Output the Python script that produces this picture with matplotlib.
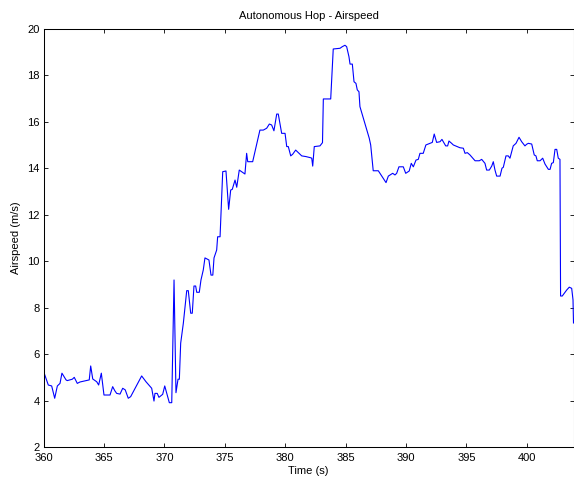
import matplotlib
matplotlib.use('Agg')
import matplotlib.pyplot as plt

# airspeed log from the autonomous hop
time_s = [
    360.0, 360.38, 360.66, 360.91, 361.13, 361.35, 361.51, 361.85, 361.95, 362.37,
    362.53, 362.78, 363.0, 363.77, 363.89, 364.06, 364.39, 364.55, 364.77, 364.99,
    365.49, 365.71, 365.88, 366.04, 366.32, 366.54, 366.75, 367.0, 367.2, 368.11,
    368.47, 368.94, 369.13, 369.21, 369.4, 369.54, 369.85, 370.02, 370.4, 370.6,
    370.79, 370.95, 371.12, 371.23, 371.34, 371.56, 371.84, 371.97, 372.17, 372.3,
    372.44, 372.58, 372.67, 372.88, 373.02, 373.21, 373.35, 373.68, 373.85, 374.0,
    374.1, 374.32, 374.4, 374.6, 374.82, 375.09, 375.31, 375.48, 375.61, 375.84,
    375.98, 376.19, 376.66, 376.8, 376.89, 377.3, 377.9, 378.18, 378.46, 378.68,
    378.87, 379.06, 379.29, 379.42, 379.7, 379.98, 380.12, 380.25, 380.45, 380.61,
    380.86, 381.08, 381.36, 381.71, 382.1, 382.19, 382.27, 382.4, 382.87, 383.08,
    383.15, 383.76, 383.97, 384.53, 384.72, 384.94, 385.08, 385.27, 385.36, 385.55,
    385.69, 385.85, 385.96, 386.1, 386.18, 386.95, 387.07, 387.28, 387.7, 388.34,
    388.53, 388.89, 389.08, 389.22, 389.41, 389.77, 389.97, 390.26, 390.43, 390.6,
    390.82, 391.01, 391.15, 391.42, 391.64, 391.98, 392.17, 392.33, 392.53, 392.81,
    392.97, 393.28, 393.44, 393.55, 393.77, 393.91, 394.24, 394.46, 394.74, 394.88,
    395.07, 395.29, 395.71, 396.06, 396.26, 396.53, 396.67, 396.89, 397.09, 397.22,
    397.36, 397.5, 397.78, 397.94, 398.05, 398.27, 398.46, 398.6, 398.87, 399.1,
    399.35, 399.57, 399.84, 399.98, 400.12, 400.4, 400.61, 400.75, 400.86, 401.09,
    401.31, 401.5, 401.78, 401.92, 402.05, 402.19, 402.33, 402.47, 402.6, 402.74,
    402.79, 402.93, 403.3, 403.51, 403.71, 403.82, 403.86,
]
airspeed = [
    5.25, 4.68, 4.64, 4.11, 4.64, 4.75, 5.19, 4.90, 4.87, 4.93,
    5.01, 4.75, 4.81, 4.90, 5.50, 4.94, 4.82, 4.68, 5.19, 4.25,
    4.25, 4.61, 4.44, 4.32, 4.29, 4.54, 4.47, 4.11, 4.18, 5.07,
    4.82, 4.54, 3.99, 4.32, 4.32, 4.15, 4.28, 4.64, 3.92, 3.92,
    9.20, 4.35, 4.93, 4.93, 6.48, 7.34, 8.74, 8.74, 7.77, 7.77,
    8.94, 8.94, 8.67, 8.67, 9.20, 9.63, 10.15, 10.06, 9.41, 9.41,
    10.15, 10.49, 11.06, 11.06, 13.86, 13.89, 12.24, 13.07, 13.10, 13.50,
    13.19, 13.93, 13.76, 14.65, 14.29, 14.29, 15.65, 15.65, 15.73, 15.91,
    15.87, 15.62, 16.34, 16.34, 15.51, 15.51, 14.94, 14.94, 14.54, 14.61,
    14.79, 14.68, 14.54, 14.51, 14.46, 14.44, 14.10, 14.94, 14.97, 15.11,
    16.99, 16.99, 19.14, 19.17, 19.24, 19.30, 19.24, 18.81, 18.49, 18.49,
    17.73, 17.66, 17.38, 17.30, 16.66, 15.30, 15.01, 13.90, 13.90, 13.39,
    13.67, 13.79, 13.72, 13.79, 14.07, 14.07, 13.79, 13.89, 14.22, 14.07,
    14.36, 14.39, 14.65, 14.65, 15.01, 15.08, 15.12, 15.48, 15.12, 15.15,
    15.25, 14.97, 14.97, 15.18, 15.08, 15.01, 14.94, 14.89, 14.87, 14.65,
    14.68, 14.58, 14.33, 14.33, 14.39, 14.22, 13.93, 13.93, 14.10, 14.29,
    13.93, 13.67, 13.67, 14.01, 14.05, 14.54, 14.54, 14.44, 14.97, 15.08,
    15.34, 15.15, 14.97, 15.04, 15.08, 15.05, 14.58, 14.54, 14.33, 14.33,
    14.44, 14.19, 13.96, 13.96, 14.22, 14.25, 14.82, 14.82, 14.44, 14.39,
    8.51, 8.51, 8.77, 8.89, 8.84, 8.34, 7.35,
]
x_ticks = [360, 365, 370, 375, 380, 385, 390, 395, 400]
y_ticks = [2, 4, 6, 8, 10, 12, 14, 16, 18, 20]

plt.rcParams['font.family'] = ['Liberation Sans', 'DejaVu Sans']
plt.rcParams['font.size'] = 8

fig = plt.figure(figsize=(5.74, 4.78), dpi=100)
ax = fig.add_axes([43.7 / 574, 30.7 / 478, 529.8 / 574, 418.3 / 478])

ax.plot(time_s, airspeed, color='#0000ff', linewidth=0.8)

ax.set_xlim(360, 403.86)
ax.set_ylim(2, 20)
ax.set_xticks(x_ticks)
ax.set_yticks(y_ticks)
ax.tick_params(direction='in', length=3, width=0.6, top=True, right=True,
               labelsize=8, colors='black')
ax.tick_params(axis='x', pad=4)
ax.tick_params(axis='y', pad=3)
for side in ax.spines.values():
    side.set_linewidth(0.75)

ax.set_title('Autonomous Hop - Airspeed', fontsize=8, pad=7.5)
ax.set_xlabel('Time (s)', fontsize=8, labelpad=2.5)
ax.set_ylabel('Airspeed (m/s)', fontsize=8, labelpad=4)

fig.savefig('out.png', dpi=100)
